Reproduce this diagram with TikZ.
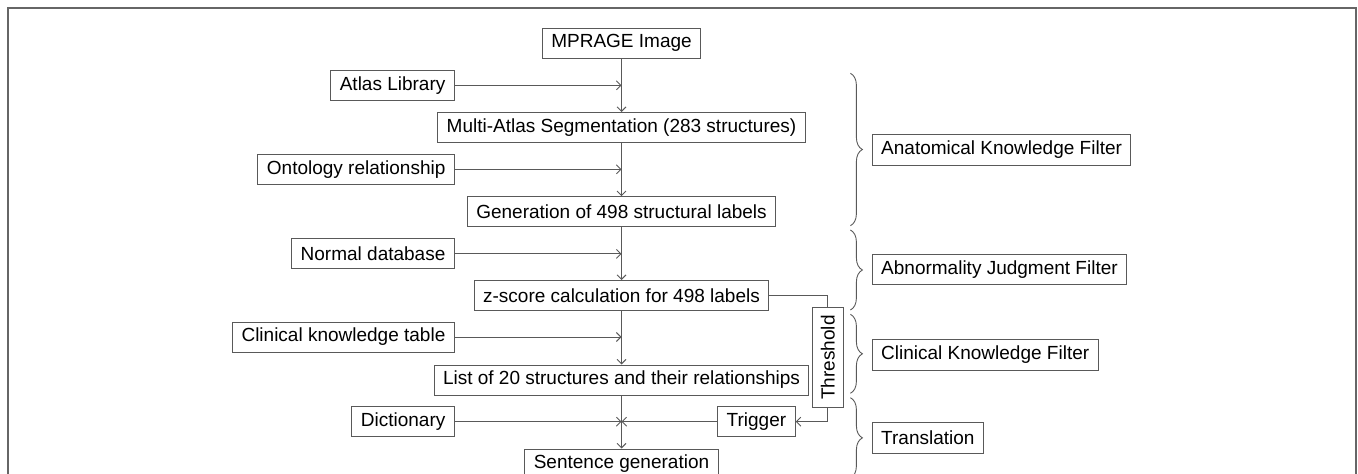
\documentclass[tikz,border=0pt]{standalone}
\usepackage{fontspec}
\setmainfont{Liberation Sans}
\usetikzlibrary{arrows.meta,decorations.pathreplacing}

\tikzset{
  stepbox/.style={draw=black!65, line width=1pt, minimum height=30pt,
    inner xsep=9pt, inner ysep=0pt, font=\fontsize{19}{22}\selectfont},
  inputbox/.style={stepbox, anchor=east},
  filterbox/.style={stepbox, anchor=west, minimum height=30.7pt},
  flow/.style={draw=black!65, line width=0.9pt, -{Straight Barb[length=4.5pt,width=9pt]}},
  wire/.style={draw=black!65, line width=0.9pt},
  bracket/.style={draw=black!65, line width=0.9pt, decorate,
    decoration={brace, amplitude=12pt}},
}

\begin{document}
\begin{tikzpicture}[x=1pt, y=-1pt]
        \useasboundingbox (0,0) rectangle (1358,474);
        \draw[black!60, line width=1.5pt] (8,8) rectangle (1356,530);

        % main pipeline
        \node[stepbox] (mprage) at (621.5, 43) {MPRAGE Image};
        \node[stepbox] (seg) at (621.5, 127.5) {Multi-Atlas Segmentation (283 structures)};
        \node[stepbox] (gen) at (621.5, 211.7) {Generation of 498 structural labels};
        \node[stepbox] (zscore) at (621.5, 295.5) {z-score calculation for 498 labels};
        \node[stepbox] (list) at (621.5, 380) {List of 20 structures and their relationships};
        \node[stepbox] (sent) at (621.5, 464) {Sentence generation};

        % side inputs
        \node[inputbox] (atlas) at (454.9, 85.3) {Atlas Library};
        \node[inputbox] (onto) at (454.9, 169.3) {Ontology relationship};
        \node[inputbox] (normal) at (454.9, 253.9) {Normal database};
        \node[inputbox] (clin) at (454.9, 337) {Clinical knowledge table};
        \node[inputbox] (dict) at (454.9, 421.7) {Dictionary};
        \node[stepbox, anchor=east] (trigger) at (795.7, 421.7) {Trigger};
        \node[stepbox, rotate=90, minimum width=100pt, minimum height=31pt,
          inner xsep=0pt] (thresh) at (827.8, 357.5) {Threshold};

        \draw[flow] (mprage) -- (seg);
        \draw[flow] (seg) -- (gen);
        \draw[flow] (gen) -- (zscore);
        \draw[flow] (zscore) -- (list);
        \draw[flow] (list) -- (sent);
        \draw[flow] (atlas) -- (atlas -| seg);
        \draw[flow] (onto) -- (onto -| gen);
        \draw[flow] (normal) -- (normal -| zscore);
        \draw[flow] (clin) -- (clin -| list);
        \draw[flow] (dict) -- (dict -| list);
        \draw[flow] (trigger) -- (trigger -| list);
        \draw[wire] (zscore) -| (thresh);
        \draw[flow] (thresh) |- (trigger);

        % filter stages
        \draw[bracket] (850.4, 73.3) -- (850.4, 225.7);
        \draw[bracket] (850.4, 230) -- (850.4, 310);
        \draw[bracket] (850.4, 314.3) -- (850.4, 393.3);
        \draw[bracket] (850.4, 397.7) -- (850.4, 478);
        \node[filterbox] (anat) at (871.7, 149.7) {Anatomical Knowledge Filter};
        \node[filterbox] (abnorm) at (871.7, 269.5) {Abnormality Judgment Filter};
        \node[filterbox] (clinf) at (871.7, 354.7) {Clinical Knowledge Filter};
        \node[filterbox] (transl) at (871.7, 438) {Translation};
\end{tikzpicture}
\end{document}
